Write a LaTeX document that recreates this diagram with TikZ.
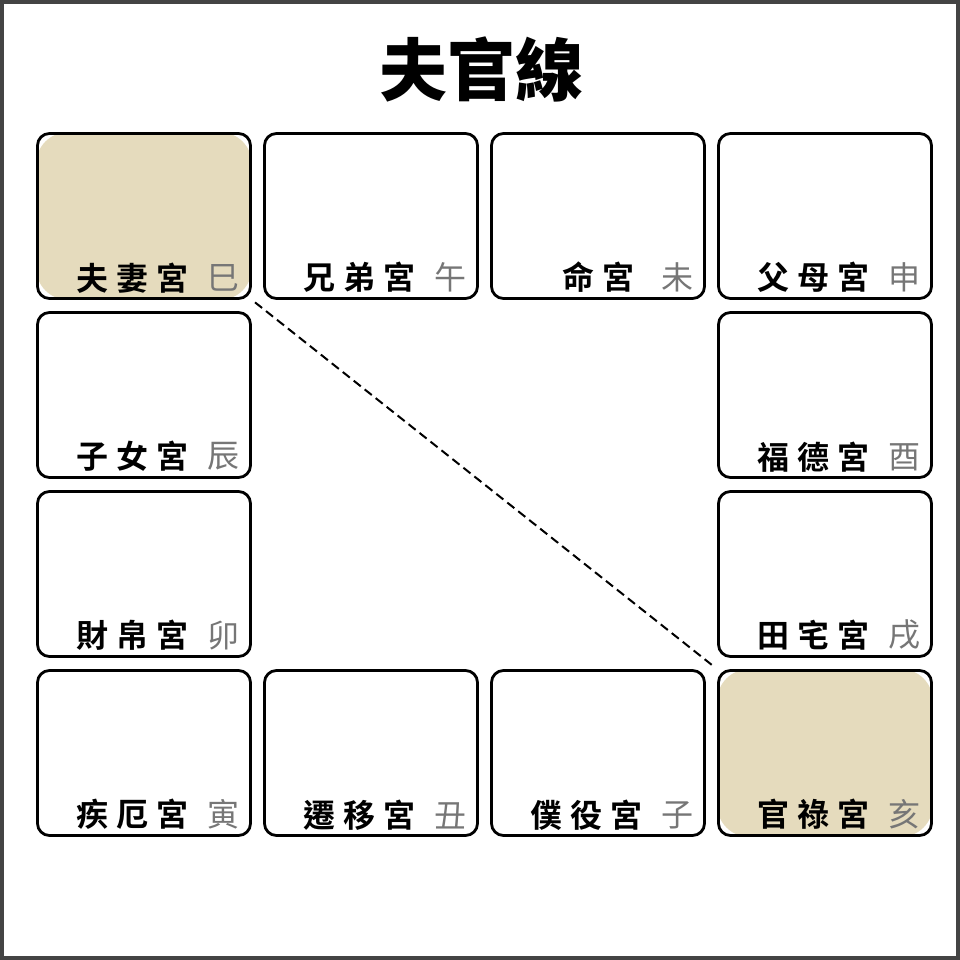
\documentclass[tikz,border=0pt]{standalone}
\usepackage{fontspec}
\setmainfont{Noto Sans CJK TC}
\newfontfamily\titlefont{Noto Sans CJK TC Black}
\newfontfamily\gongfont[LetterSpace=25]{Noto Sans CJK TC Bold}
\newfontfamily\zhifont{Noto Sans CJK TC}
\usetikzlibrary{positioning, backgrounds}
\definecolor{benfill}{RGB}{229,219,189}
\definecolor{zhigray}{RGB}{118,118,118}
\definecolor{framegray}{RGB}{68,68,68}

\begin{document}
\begin{tikzpicture}[x=1pt, y=1pt, node distance=179pt and 227pt, on grid]
  \tikzset{
    cell/.style={draw, line width=2.8pt, rounded corners=12pt, minimum width=213pt, minimum height=165pt, inner sep=0pt},
    gong/.style={font=\gongfont\fontsize{32}{32}\selectfont, inner sep=0pt, anchor=east},
    zhi/.style={font=\zhifont\fontsize{32}{32}\selectfont, text=zhigray, inner sep=0pt},
    ben/.style={fill=benfill, rounded corners=32pt}
  }
  \useasboundingbox (0,0) rectangle (960,960);
  \draw[line width=8pt, framegray] (0,0) rectangle (960,960);

  % titulo
  \node[font=\titlefont\fontsize{68}{68}\selectfont, inner sep=0pt] (title) at (481,891) {夫官線};

  % casillas
  \node[cell] (si) at (144,744) {};
  \node[cell] (wu) [right=of si] {};
  \node[cell] (wei) [right=of wu] {};
  \node[cell] (shen) [right=of wei] {};
  \node[cell] (chen) [below=of si] {};
  \node[cell] (you) [below=of shen] {};
  \node[cell] (mao) [below=of chen] {};
  \node[cell] (xu) [below=of you] {};
  \node[cell] (yin) [below=of mao] {};
  \node[cell] (chou) [right=of yin] {};
  \node[cell] (zi) [right=of chou] {};
  \node[cell] (hai) [right=of zi] {};

  % casillas marcadas
  \begin{scope}[on background layer]
    \fill[ben] (si.north west) rectangle (si.south east);
    \fill[ben] (hai.north west) rectangle (hai.south east);
  \end{scope}

  % ramas
  \node[zhi] (si-z) [above left=8pt and 12pt of si.south east] {巳};
  \node[zhi] (wu-z) [above left=8pt and 12pt of wu.south east] {午};
  \node[zhi] (wei-z) [above left=8pt and 12pt of wei.south east] {未};
  \node[zhi] (shen-z) [above left=8pt and 12pt of shen.south east] {申};
  \node[zhi] (chen-z) [above left=8pt and 12pt of chen.south east] {辰};
  \node[zhi] (you-z) [above left=8pt and 12pt of you.south east] {酉};
  \node[zhi] (mao-z) [above left=8pt and 12pt of mao.south east] {卯};
  \node[zhi] (xu-z) [above left=8pt and 12pt of xu.south east] {戌};
  \node[zhi] (yin-z) [above left=8pt and 12pt of yin.south east] {寅};
  \node[zhi] (chou-z) [above left=8pt and 12pt of chou.south east] {丑};
  \node[zhi] (zi-z) [above left=8pt and 12pt of zi.south east] {子};
  \node[zhi] (hai-z) [above left=8pt and 12pt of hai.south east] {亥};

  % palacios
  \node[gong] (si-g) at ([xshift=-35pt]si-z.center) {夫妻宮};
  \node[gong] (wu-g) at ([xshift=-35pt]wu-z.center) {兄弟宮};
  \node[gong] (wei-g) at ([xshift=-43pt]wei-z.center) {命宮};
  \node[gong] (shen-g) at ([xshift=-35pt]shen-z.center) {父母宮};
  \node[gong] (chen-g) at ([xshift=-35pt]chen-z.center) {子女宮};
  \node[gong] (you-g) at ([xshift=-35pt]you-z.center) {福德宮};
  \node[gong] (mao-g) at ([xshift=-35pt]mao-z.center) {財帛宮};
  \node[gong] (xu-g) at ([xshift=-35pt]xu-z.center) {田宅宮};
  \node[gong] (yin-g) at ([xshift=-35pt]yin-z.center) {疾厄宮};
  \node[gong] (chou-g) at ([xshift=-35pt]chou-z.center) {遷移宮};
  \node[gong] (zi-g) at ([xshift=-35pt]zi-z.center) {僕役宮};
  \node[gong] (hai-g) at ([xshift=-35pt]hai-z.center) {官祿宮};

  % linea
  \draw[line width=2pt, dash pattern=on 9pt off 5pt, shorten <=4pt, shorten >=4pt] (si.south east) -- (hai.north west);
\end{tikzpicture}
\end{document}
